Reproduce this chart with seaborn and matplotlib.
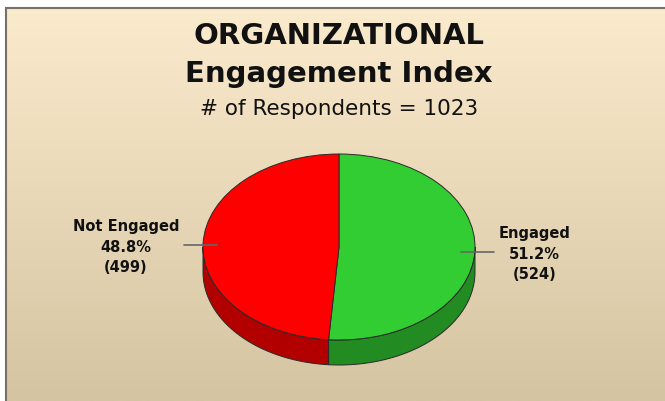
import matplotlib
matplotlib.use("Agg")
import matplotlib.pyplot as plt
from matplotlib.patches import Polygon
import numpy as np
import seaborn as sns

# data
LABELS = ["Engaged", "Not Engaged"]
COUNTS = [524, 499]
TITLE = "ORGANIZATIONAL\nEngagement Index"
SUBTITLE = "# of Respondents = 1023"

TOP_COLORS = sns.color_palette(["#32CD32", "#FF0000"])
SIDE_COLORS = sns.color_palette(["#228B22", "#B20000"])
EDGE = "#2a2a2a"

W, H = 665, 402
CX, CY = 339, 248        # ellipse centre (px)
RX, RY = 136, 93         # ellipse radii (px)
DEPTH = 25 / RY          # side depth in pie units

sns.set_theme(style="white")
plt.rcParams["font.family"] = ["DejaVu Sans"]

fig = plt.figure(figsize=(W / 100, H / 100), dpi=100)
fig.patch.set_facecolor("white")

# background panel with vertical gradient and border
bg = fig.add_axes([0, 0, 1, 1])
bg.set_xlim(0, W)
bg.set_ylim(H, 0)
bg.axis("off")
grad = np.linspace(0, 1, 256).reshape(-1, 1)
top = np.array([251, 235, 205]) / 255
bot = np.array([212, 196, 161]) / 255
img = top + (bot - top) * grad[..., None]
bg.imshow(img, extent=(6, W, H, 8), aspect="auto", interpolation="bilinear")
bg.plot([5, W], [8.5, 8.5], color="#767069", lw=1.5, solid_capstyle="butt")
bg.plot([5.5, 5.5], [8, H], color="#767069", lw=1.5, solid_capstyle="butt")

# pie axes in unit coordinates (unit circle -> ellipse)
ax = fig.add_axes([0, 0, 1, 1])
ax.set_facecolor("none")
wedges, _ = ax.pie(COUNTS, colors=TOP_COLORS, startangle=90, counterclock=False,
                   wedgeprops=dict(edgecolor=EDGE, linewidth=0.7, zorder=3))
ax.set_aspect("auto")
ax.set_xlim(-CX / RX, (W - CX) / RX)
ax.set_ylim((CY - H) / RY, CY / RY)
ax.axis("off")

total = sum(COUNTS)
for w, side_col, lab, n in zip(wedges, SIDE_COLORS, LABELS, COUNTS):
    # front (visible) part of the side wall
    t1 = max(w.theta1, -180)
    t2 = min(w.theta2, 0)
    if t2 > t1:
        t = np.radians(np.linspace(t1, t2, 80))
        xs = np.cos(t)
        ys = np.sin(t)
        pts = np.vstack([np.column_stack([xs, ys]),
                         np.column_stack([xs[::-1], ys[::-1] - DEPTH])])
        ax.add_patch(Polygon(pts, closed=True, facecolor=side_col,
                             edgecolor=EDGE, linewidth=0.7, zorder=2))
    # leader line and label
    mid = np.radians((w.theta1 + w.theta2) / 2)
    sx = np.sign(np.cos(mid))
    y = np.sin(mid)
    ax.plot([0.9 * sx, 1.14 * sx], [y - 0.02, y - 0.02],
            color="#666666", lw=1.2, zorder=4)
    ax.text(1.175 * sx, y - 0.03, f"{lab}\n{n / total * 100:.1f}%\n({n})",
            ha="left" if sx > 0 else "right", va="center", multialignment="center",
            fontsize=10.5, fontweight="bold", color="#111111", linespacing=1.45,
            zorder=5)

# titles
fig.text(CX / W, 1 - 44 / H, TITLE.split("\n")[0], ha="center", va="baseline",
         fontsize=21, fontweight="bold", color="#111111")
fig.text(CX / W, 1 - 82 / H, TITLE.split("\n")[1], ha="center", va="baseline",
         fontsize=21, fontweight="bold", color="#111111")
fig.text(CX / W, 1 - 115 / H, SUBTITLE, ha="center", va="baseline",
         fontsize=15.5, color="#111111")

fig.savefig("out.png", dpi=100)
